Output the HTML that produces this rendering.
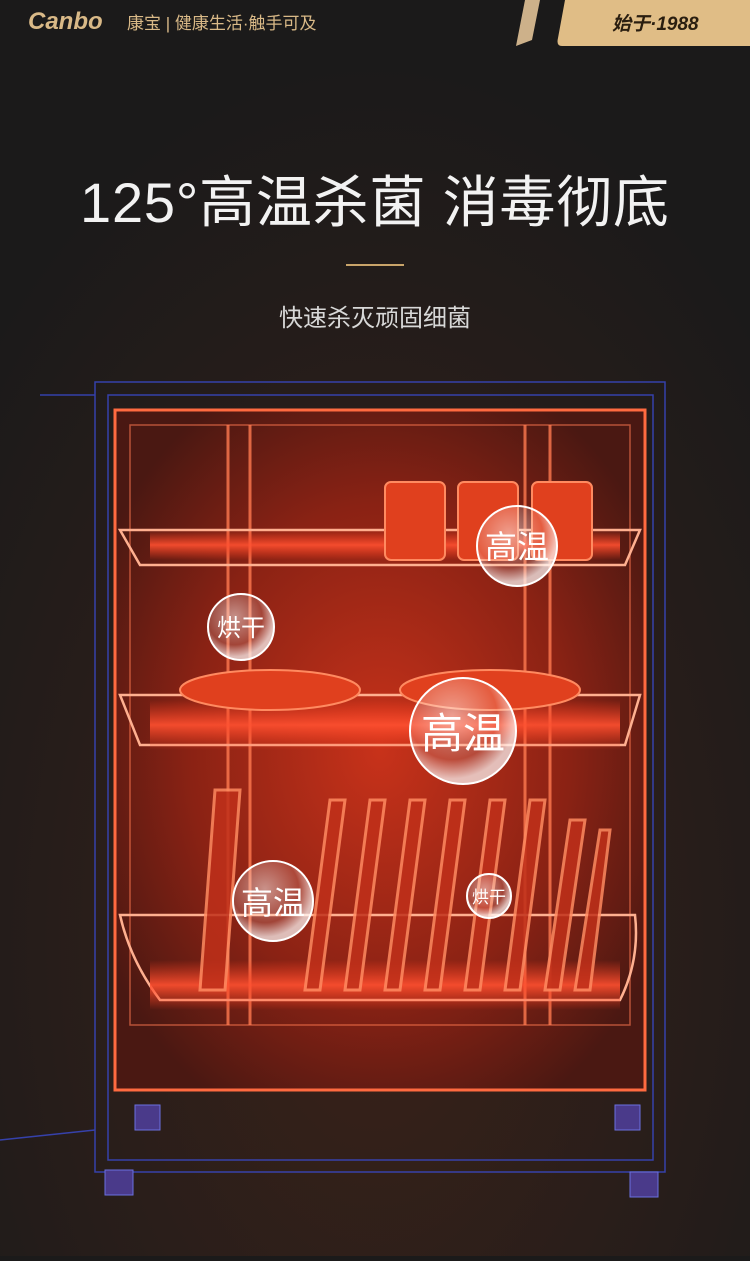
<!DOCTYPE html>
<html><head><meta charset="utf-8"><style>
body{margin:0;width:750px;height:1256px;overflow:hidden;background:#1b1a1a;font-family:"Liberation Sans","Noto Sans CJK SC",sans-serif}
</style></head><body>
<svg width="750" height="1256" viewBox="0 0 750 1256" xmlns="http://www.w3.org/2000/svg">
<defs>
<radialGradient id="bg" cx="0.5" cy="0.75" r="0.7"><stop offset="0" stop-color="#3a2219"/><stop offset="1" stop-color="#1b1a1a"/></radialGradient>
<radialGradient id="glow" cx="0.5" cy="0.5" r="0.6"><stop offset="0" stop-color="#c8321a"/><stop offset="0.6" stop-color="#8a2214"/><stop offset="1" stop-color="#4a1812"/></radialGradient>
<radialGradient id="bub" cx="0.4" cy="0.35" r="0.6"><stop offset="0" stop-color="#ffffff" stop-opacity="0.5"/><stop offset="0.7" stop-color="#ffffff" stop-opacity="0.15"/><stop offset="1" stop-color="#ffffff" stop-opacity="0.7"/></radialGradient>
<linearGradient id="heat" x1="0" y1="0" x2="0" y2="1"><stop offset="0" stop-color="#ff4020" stop-opacity="0"/><stop offset="0.5" stop-color="#ff5030" stop-opacity="0.9"/><stop offset="1" stop-color="#ff4020" stop-opacity="0"/></linearGradient>
</defs>
<rect width="750" height="1256" fill="url(#bg)"/>
<rect width="750" height="60" fill="#1b1a1a"/>
<text x="28" y="29" font-size="24" font-weight="bold" font-style="italic" fill="#d9b987">Canbo</text>
<text x="127" y="29" font-size="17" fill="#d9b987">康宝  |  健康生活·触手可及</text>
<path d="M525 0 L540 0 L532 40 L516 46 Z" fill="#cdb18a"/>
<path d="M565 0 L750 0 L750 46 L562 46 Q556 46 558 38 Z" fill="#e0bd86"/>
<text x="612" y="30" font-size="19" font-weight="bold" font-style="italic" fill="#2a1e10">始于·1988</text>
<text x="375" y="222" font-size="56" fill="#f2f2f2" text-anchor="middle" letter-spacing="1" textLength="590" lengthAdjust="spacing">125°高温杀菌 消毒彻底</text>
<rect x="346" y="264" width="58" height="2" fill="#c9a46a"/>
<text x="375" y="326" font-size="24" fill="#d8d8d8" text-anchor="middle">快速杀灭顽固细菌</text>
<g fill="none" stroke="#3a4bd0" stroke-width="1.5" opacity="0.8">
<rect x="95" y="382" width="570" height="790"/>
<rect x="108" y="395" width="545" height="765"/>
<path d="M40 395 L95 395 M0 1140 L95 1130"/>
</g>
<rect x="115" y="410" width="530" height="680" fill="url(#glow)" stroke="#ff6a40" stroke-width="3"/>
<rect x="130" y="425" width="500" height="600" fill="none" stroke="#ff7a50" stroke-width="1.5" opacity="0.6"/>
<g stroke="#ff7a50" stroke-width="3" opacity="0.8"><line x1="228" y1="425" x2="228" y2="1025"/><line x1="525" y1="425" x2="525" y2="1025"/><line x1="550" y1="425" x2="550" y2="1025"/><line x1="250" y1="425" x2="250" y2="1025"/></g>
<g fill="none" stroke="#ffb090" stroke-width="2.5">
<path d="M120 530 L640 530 L625 565 L140 565 Z"/>
<path d="M120 695 L640 695 L625 745 L140 745 Z"/>
<path d="M120 915 L635 915 Q640 960 620 1000 L160 1000 Q130 960 120 915 Z"/>
</g>
<rect x="150" y="700" width="470" height="50" fill="url(#heat)"/>
<rect x="150" y="960" width="470" height="50" fill="url(#heat)"/>
<rect x="150" y="530" width="470" height="30" fill="url(#heat)"/>
<g fill="#e0401e" stroke="#ff8a60" stroke-width="2"><rect x="385" y="482" width="60" height="78" rx="6"/><rect x="458" y="482" width="60" height="78" rx="6"/><rect x="532" y="482" width="60" height="78" rx="6"/></g>
<g fill="#e0401e" stroke="#ff8a60" stroke-width="2"><ellipse cx="270" cy="690" rx="90" ry="20"/><ellipse cx="490" cy="690" rx="90" ry="20"/></g>
<g stroke="#ff8a60" stroke-width="3" fill="#c0301a" opacity="0.85">
<path d="M215 790 L240 790 L225 990 L200 990Z"/><path d="M330 800 L345 800 L320 990 L305 990Z"/><path d="M370 800 L385 800 L360 990 L345 990Z"/><path d="M410 800 L425 800 L400 990 L385 990Z"/><path d="M450 800 L465 800 L440 990 L425 990Z"/><path d="M490 800 L505 800 L480 990 L465 990Z"/><path d="M530 800 L545 800 L520 990 L505 990Z"/><path d="M570 820 L585 820 L560 990 L545 990Z"/><path d="M600 830 L610 830 L590 990 L575 990Z"/>
</g>
<g fill="#4a3a8a" stroke="#6a70e0"><rect x="135" y="1105" width="25" height="25"/><rect x="615" y="1105" width="25" height="25"/><rect x="105" y="1170" width="28" height="25"/><rect x="630" y="1172" width="28" height="25"/></g>
<g stroke="#ffffff" stroke-width="2"><circle cx="517" cy="546" r="40" fill="url(#bub)"/><circle cx="241" cy="627" r="33" fill="url(#bub)"/><circle cx="463" cy="731" r="53" fill="url(#bub)"/><circle cx="273" cy="901" r="40" fill="url(#bub)"/><circle cx="489" cy="896" r="22" fill="url(#bub)"/></g>
<g fill="#fff" text-anchor="middle"><text x="517" y="558" font-size="32">高温</text><text x="241" y="636" font-size="24">烘干</text><text x="463" y="748" font-size="42">高温</text><text x="273" y="914" font-size="32">高温</text><text x="489" y="903" font-size="17">烘干</text></g>
</svg>
</body></html>
